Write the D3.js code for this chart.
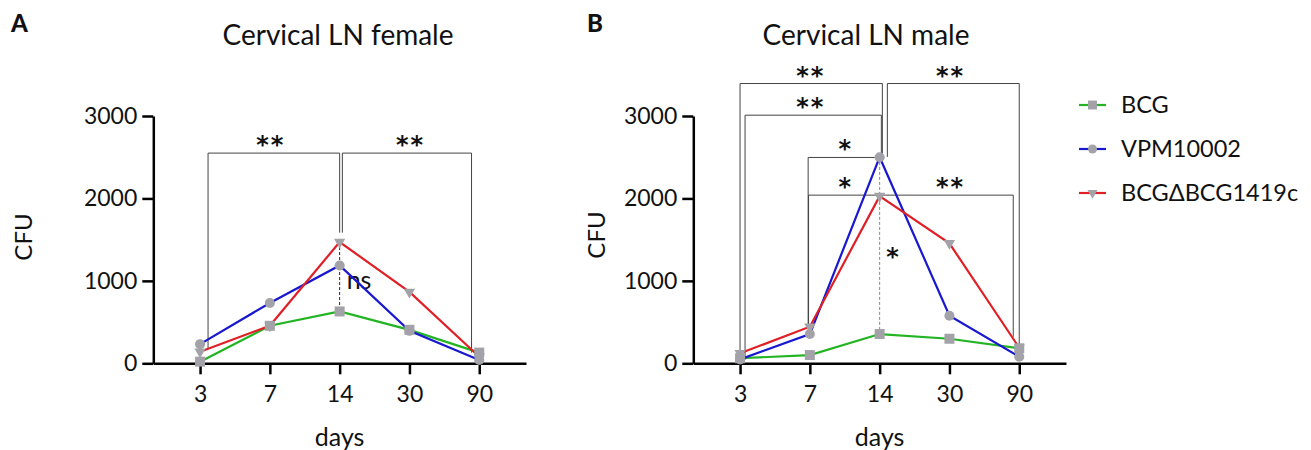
<!DOCTYPE html>
<html>
<head>
<meta charset="utf-8">
<script src="https://cdn.jsdelivr.net/npm/d3@7"></script>
<style>
    body { margin: 0; background: #fff; }
    svg { font-family: Lato, "Open Sans", sans-serif; fill: #111; }
    .axis path, .axis line { stroke: #000; stroke-width: 2.5; }
    .axis text { font-size: 23px; fill: #111; font-family: Lato, sans-serif; }
    .bracket { fill: none; stroke: #444; stroke-width: 1; }
    .series { fill: none; stroke-width: 2.2; }
    .marker { fill: #a2a2a8; }
    .stars { font-family: "DejaVu Sans", sans-serif; font-size: 24px; font-weight: bold; letter-spacing: 2px; }
</style>
</head>
<body>
<svg class="chart"></svg>
<script>
// x categories (days) and y ticks
var days = ["3", "7", "14", "30", "90"];
var yTicks = [0, 1000, 2000, 3000];
var seriesNames = ["BCG", "VPM10002", "BCG\u0394BCG1419c"];

// CFU values, one entry per day
var femaleBCG = [20, 455, 629, 406, 130];
var femaleVPM = [232, 732, 1187, 394, 40];
var femaleDelta = [141, 455, 1471, 866, 80];

var maleBCG = [61, 100, 355, 298, 182];
var maleVPM = [48, 355, 2500, 577, 80];
var maleDelta = [121, 444, 2028, 1455, 189];

// significance brackets: from/to day, bar level (CFU), leg ends (CFU, null = no leg), label
var femaleSig = [
    { from: "3", to: "14", level: 2550, legs: [183, 1585], label: "**" },
    { from: "14", to: "90", level: 2550, legs: [1585, 130], label: "**" }
];
var maleSig = [
    { from: "3", to: "14", level: 3394, legs: [40, 2504], label: "**" },
    { from: "3", to: "14", level: 3010, legs: [40, 2504], label: "**" },
    { from: "14", to: "90", level: 3394, legs: [2504, 222], label: "**" },
    { from: "7", to: "14", level: 2497, legs: [444, null], label: "*" },
    { from: "7", to: "14", level: 2040, legs: [444, null], label: "*" },
    { from: "14", to: "90", level: 2040, legs: [null, 322], label: "**" }
];
// vertical comparison at day 14
var femaleVert = { day: "14", top: 1471, bottom: 629, label: "ns", at: 1010 };
var maleVert = { day: "14", top: 2504, bottom: 355, label: "*", at: 1373 };

var width = 1311;
var height = 450;
var colors = ["#22b422", "#1818d0", "#e01f26"];
var symbols = [d3.symbolSquare, d3.symbolCircle, d3.symbolTriangle];
var symSize = [100, 80, 55];

// small pixel nudges so the bracket legs don't overlap (per bracket, [left, right])
var femaleNudge = [[8, 0], [2.7, -7.7]];
var maleNudge = [[0, 2.7], [5, 1.7], [7.7, 0], [-1.7, 0], [-1.3, 0], [0, -6]];

var chart = d3.select(".chart")
    .attr("width", width)
    .attr("height", height);

var panels = [{
    letter: "A",
    letterX: 11,
    title: "Cervical LN female",
    titleX: 338,
    x0: 153.3,
    x1: 526,
    cfuX: 32,
    cfuY: 237,
    series: [femaleBCG, femaleVPM, femaleDelta],
    sig: femaleSig,
    nudge: femaleNudge,
    vert: femaleVert,
    vertColor: "#222",
    vertLabelDx: 7,
    vertAnchor: "start"
}, {
    letter: "B",
    letterX: 587,
    title: "Cervical LN male",
    titleX: 866,
    x0: 693.3,
    x1: 1066,
    cfuX: 605,
    cfuY: 235,
    series: [maleBCG, maleVPM, maleDelta],
    sig: maleSig,
    nudge: maleNudge,
    vert: maleVert,
    vertColor: "#888",
    vertLabelDx: 14,
    vertAnchor: "middle"
}];

panels.forEach(drawPanel);
drawLegend();

function drawPanel(p) {
    var g = chart.append("g");

    var x = d3.scalePoint()
        .domain(days)
        .range([p.x0, p.x1])
        .padding(0.67);

    var y = d3.scaleLinear()
        .domain([0, 3000])
        .range([363.3, 116]);

    // panel letter + title
    g.append("text")
        .attr("x", p.letterX)
        .attr("y", 31.5)
        .style("font-size", "24px")
        .style("font-weight", "900")
        .text(p.letter);

    g.append("text")
        .attr("x", p.titleX)
        .attr("y", 45)
        .attr("text-anchor", "middle")
        .style("font-size", "28px")
        .text(p.title);

    // axes
    g.append("g")
        .attr("class", "axis")
        .attr("transform", "translate(0," + y(0) + ")")
        .call(d3.axisBottom(x).tickSize(11).tickSizeOuter(0).tickPadding(11));

    g.append("g")
        .attr("class", "axis")
        .attr("transform", "translate(" + p.x0 + ",0)")
        .call(d3.axisLeft(y).tickValues(yTicks).tickFormat(d3.format("d"))
            .tickSize(11).tickSizeOuter(0).tickPadding(5));

    g.append("text")
        .attr("transform", "translate(" + p.cfuX + "," + p.cfuY + ") rotate(-90)")
        .attr("text-anchor", "middle")
        .style("font-size", "24px")
        .text("CFU");

    g.append("text")
        .attr("x", x("14"))
        .attr("y", 446)
        .attr("text-anchor", "middle")
        .style("font-size", "25px")
        .text("days");

    // significance brackets
    p.sig.forEach(function(s, i) {
        var nx = p.nudge[i];
        var xa = x(s.from) + nx[0];
        var xb = x(s.to) + nx[1];
        var yl = y(s.level);
        var pts = [];
        if (s.legs[0] != null) pts.push([xa, y(s.legs[0])]);
        pts.push([xa, yl]);
        pts.push([xb, yl]);
        if (s.legs[1] != null) pts.push([xb, y(s.legs[1])]);

        g.append("path")
            .attr("class", "bracket")
            .attr("d", d3.line()(pts));

        g.append("text")
            .attr("class", "stars")
            .attr("x", (x(s.from) + x(s.to)) / 2 + 1)
            .attr("y", yl)
            .attr("text-anchor", "middle")
            .text(s.label);
    });

    // dashed vertical comparison
    var vx = x(p.vert.day);
    g.append("line")
        .attr("x1", vx)
        .attr("x2", vx)
        .attr("y1", y(p.vert.top))
        .attr("y2", y(p.vert.bottom))
        .attr("stroke", p.vertColor)
        .attr("stroke-width", 1)
        .attr("stroke-dasharray", "3,2");

    var vt = g.append("text")
        .attr("x", vx + p.vertLabelDx)
        .attr("y", y(p.vert.at))
        .attr("text-anchor", p.vertAnchor)
        .text(p.vert.label);
    if (p.vert.label == "ns") {
        vt.attr("dy", "0.35em").style("font-size", "25px");
    } else {
        vt.attr("class", "stars").attr("dy", "0.6em");
    }

    // lines
    var line = d3.line()
        .x(function(d, i) { return x(days[i]); })
        .y(function(d) { return y(d); });

    p.series.forEach(function(vals, k) {
        g.append("path")
            .datum(vals)
            .attr("class", "series")
            .attr("stroke", colors[k])
            .attr("d", line);
    });

    // markers on top
    p.series.forEach(function(vals, k) {
        g.selectAll(null)
            .data(vals)
            .enter()
            .append("path")
            .attr("class", "marker")
            .attr("transform", function(d, i) {
                return "translate(" + x(days[i]) + "," + y(d) + ")" + (k == 2 ? " rotate(180)" : "");
            })
            .attr("d", d3.symbol().type(symbols[k]).size(symSize[k]));
    });
}

function drawLegend() {
    var lg = chart.append("g");
    var rowY = d3.scalePoint().domain(seriesNames).range([105, 193]);

    seriesNames.forEach(function(name, k) {
        var yy = rowY(name);
        lg.append("line")
            .attr("x1", 1079)
            .attr("x2", 1106)
            .attr("y1", yy)
            .attr("y2", yy)
            .attr("stroke", colors[k])
            .attr("stroke-width", 2.2);
        lg.append("path")
            .attr("class", "marker")
            .attr("transform", "translate(1092.5," + yy + ")" + (k == 2 ? " rotate(180)" : ""))
            .attr("d", d3.symbol().type(symbols[k]).size(symSize[k] * 0.8));
        lg.append("text")
            .attr("x", 1121)
            .attr("y", yy)
            .attr("dy", "0.36em")
            .style("font-size", "23.5px")
            .text(name);
    });
}
</script>
</body>
</html>
